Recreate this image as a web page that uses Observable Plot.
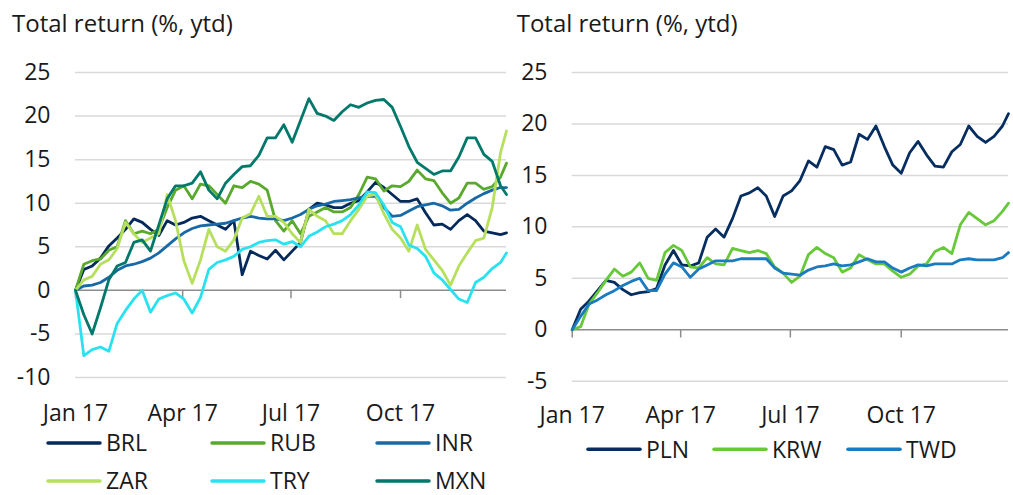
<!DOCTYPE html>
<html>
<head>
<meta charset="utf-8">
<script src="https://cdn.jsdelivr.net/npm/d3@7"></script>
<script src="https://cdn.jsdelivr.net/npm/@observablehq/plot@0.6"></script>
<style>
  html, body { margin: 0; padding: 0; background: #fff; }
  #root { position: relative; width: 1013px; height: 495px; overflow: hidden; font-family: "Open Sans", sans-serif; color: #1a1a1a; }
  .panel { position: absolute; top: 0; }
  #overlay { position: absolute; left: 0; top: 0; pointer-events: none; }
</style>
</head>
<body>
<div id="root">
  <div class="panel" id="left"></div>
  <div class="panel" id="right"></div>
</div>
<script>
// ---------------- DATA ----------------
const dates = [
  "2017-01-01","2017-01-08","2017-01-15","2017-01-22","2017-01-29",
  "2017-02-05","2017-02-12","2017-02-19","2017-02-26",
  "2017-03-05","2017-03-12","2017-03-19","2017-03-26",
  "2017-04-02","2017-04-09","2017-04-16","2017-04-23","2017-04-30",
  "2017-05-07","2017-05-14","2017-05-21","2017-05-28",
  "2017-06-04","2017-06-11","2017-06-18","2017-06-25",
  "2017-07-02","2017-07-09","2017-07-16","2017-07-23","2017-07-30",
  "2017-08-06","2017-08-13","2017-08-20","2017-08-27",
  "2017-09-03","2017-09-10","2017-09-17","2017-09-24",
  "2017-10-01","2017-10-08","2017-10-15","2017-10-22","2017-10-29",
  "2017-11-05","2017-11-12","2017-11-19","2017-11-26",
  "2017-12-03","2017-12-10","2017-12-17","2017-12-24","2017-12-29"
];

const leftSeries = ["BRL", "RUB", "INR", "ZAR", "TRY", "MXN"];
const leftColors = ["#04295a", "#58a92c", "#176aa6", "#b6e05c", "#2ae2ef", "#00786a"];

const BRL = [0, 2.4, 2.8, 3.7, 5.1, 6.0, 7.0, 8.2, 7.8, 7.0, 6.3, 8.0, 7.5, 7.8, 8.3, 8.5,
             8.0, 7.5, 7.0, 8.0, 1.8, 4.5, 4.0, 3.6, 4.6, 3.5, 4.5, 5.5, 9.3, 10.0, 9.8,
             9.5, 9.5, 10.0, 10.3, 11.3, 12.4, 11.8, 11.0,
             10.2, 10.2, 10.5, 8.9, 7.5, 7.6, 7.0, 8.0, 8.7, 8.0, 6.8, 6.6, 6.4, 6.6];
const RUB = [0, 3.0, 3.4, 3.6, 4.6, 5.0, 8.0, 6.5, 6.8, 6.5, 7.0, 9.5, 11.5, 12.0, 10.5, 12.2,
             12.0, 11.0, 10.0, 12.0, 11.8, 12.5, 12.2, 11.5, 8.0, 6.8, 8.0, 6.5, 8.5, 9.0, 9.5,
             9.0, 9.0, 9.5, 11.0, 13.0, 12.8, 11.4, 12.0,
             11.9, 12.5, 13.8, 12.8, 12.6, 11.2, 10.0, 10.6, 12.3, 12.3, 11.6, 11.9, 13.0, 14.6];
const INR = [0, 0.5, 0.6, 0.9, 1.5, 2.3, 2.8, 3.0, 3.3, 3.7, 4.3, 5.1, 5.9, 6.6, 7.1, 7.4,
             7.5, 7.6, 7.7, 8.0, 8.3, 8.5, 8.3, 8.2, 8.2, 8.0, 8.3, 8.7, 9.3, 9.7, 9.9,
             10.2, 10.3, 10.4, 10.6, 10.8, 10.8, 9.5, 8.5,
             8.6, 9.1, 9.6, 9.8, 10.0, 9.7, 9.2, 9.3, 10.0, 10.6, 11.1, 11.5, 11.8, 11.8];
const ZAR = [0, 1.2, 1.6, 3.0, 3.5, 4.8, 7.8, 6.5, 5.5, 6.0, 6.5, 11.0, 8.0, 3.4, 0.8, 3.5,
             7.0, 5.0, 4.5, 5.8, 8.3, 8.8, 10.8, 8.5, 8.5, 7.8, 6.5, 5.5, 9.3, 8.5, 8.0,
             6.5, 6.5, 8.0, 9.3, 10.8, 11.0, 8.8, 7.0,
             6.0, 4.5, 7.5, 4.7, 3.5, 2.3, 0.6, 2.8, 4.3, 5.7, 6.0, 9.5, 15.8, 18.3];
const TRY = [0, -7.5, -6.8, -6.5, -7.0, -3.8, -2.3, -1.0, 0.0, -2.5, -1.0, -0.6, -0.3, -1.0, -2.6, -0.8,
             2.4, 3.2, 3.5, 3.9, 4.7, 5.0, 5.5, 5.7, 5.8, 5.3, 5.6, 5.0, 6.2, 6.7, 7.3,
             7.6, 8.0, 8.7, 9.8, 11.3, 11.2, 9.8, 7.8,
             7.3, 5.2, 4.8, 3.9, 2.0, 1.2, 0.1, -1.0, -1.4, 0.9, 1.5, 2.5, 3.2, 4.3];
const MXN = [0, -2.8, -5.0, -2.0, 1.2, 2.8, 3.2, 5.5, 5.8, 4.5, 7.5, 10.5, 12.0, 12.0, 12.3, 13.6,
             11.5, 10.5, 12.3, 13.3, 14.2, 14.3, 15.5, 17.5, 17.5, 19.0, 17.0, 19.5, 22.0, 20.3, 20.0,
             19.5, 20.5, 21.3, 21.0, 21.5, 21.8, 21.9, 21.0,
             18.8, 16.5, 14.7, 14.0, 13.3, 13.7, 13.7, 15.3, 17.5, 17.5, 15.6, 14.8, 12.0, 11.0];

const rightSeries = ["PLN", "KRW", "TWD"];
const rightColors = ["#062d60", "#67c93a", "#1a7bc0"];

const PLN = [0, 2.0, 2.8, 3.8, 4.8, 4.6, 3.9, 3.4, 3.6, 3.7, 4.0, 6.3, 7.7, 6.3, 6.2, 6.5, 9.0, 9.8, 9.0, 10.8, 13.0, 13.3, 13.8, 13.0, 11.0, 13.0, 13.5, 14.5, 16.4, 15.8, 17.8, 17.5, 16.0, 16.3, 19.0, 18.5, 19.8, 17.8, 16.0, 15.2, 17.2, 18.3, 17.0, 15.9, 15.8, 17.3, 18.0, 19.8, 18.8, 18.2, 18.8, 19.8, 21.0];
const KRW = [0, 0.3, 2.5, 3.6, 4.8, 5.9, 5.2, 5.6, 6.5, 5.0, 4.8, 7.5, 8.2, 7.7, 6.1, 6.0, 7.0, 6.4, 6.3, 7.9, 7.7, 7.5, 7.7, 7.4, 6.1, 5.5, 4.6, 5.2, 7.3, 8.0, 7.4, 7.0, 5.6, 6.0, 7.3, 6.8, 6.4, 6.4, 5.7, 5.1, 5.4, 6.2, 6.4, 7.6, 8.0, 7.4, 10.2, 11.4, 10.8, 10.2, 10.6, 11.5, 12.3];
const TWD = [0, 1.3, 2.5, 2.9, 3.4, 3.8, 4.3, 4.7, 5.0, 3.8, 3.8, 5.4, 6.5, 6.1, 5.1, 5.9, 6.3, 6.7, 6.7, 6.7, 6.9, 6.9, 6.9, 6.9, 6.0, 5.5, 5.4, 5.3, 5.8, 6.1, 6.2, 6.4, 6.2, 6.3, 6.6, 6.9, 6.6, 6.6, 6.0, 5.6, 6.0, 6.3, 6.2, 6.4, 6.4, 6.4, 6.8, 6.9, 6.8, 6.8, 6.8, 7.0, 7.5];

const yTicksLeft = [-10, -5, 0, 5, 10, 15, 20, 25];
const yTicksRight = [-5, 0, 5, 10, 15, 20, 25];
const xTickDates = ["2017-01-01", "2017-04-01", "2017-07-01", "2017-10-01"];
const xTickLabels = ["Jan 17", "Apr 17", "Jul 17", "Oct 17"];
const titleText = "Total return (%, ytd)";

// ---------------- BUILD ----------------
const parse = d3.utcParse("%Y-%m-%d");
const dateObjs = dates.map(parse);
const tickObjs = xTickDates.map(parse);
const FONT = "'Open Sans', sans-serif";
const TEXT = "#1a1a1a";

function rowsFor(names, arrays) {
  return names.flatMap((s, k) => arrays[k].map((v, i) => ({date: dateObjs[i], value: v, series: s})));
}

function panel(opts) {
  const rows = rowsFor(opts.names, opts.arrays);
  const grid = opts.yTicks.filter(v => v !== 0);
  return Plot.plot({
    width: opts.width,
    height: 430,
    marginLeft: opts.marginLeft,
    marginRight: opts.marginRight,
    marginTop: 72,
    marginBottom: opts.marginBottom,
    style: {fontFamily: FONT, fontSize: "23px", color: TEXT, background: "transparent", overflow: "visible"},
    x: {type: "utc", domain: [dateObjs[0], dateObjs[dateObjs.length - 1]]},
    y: {domain: opts.yDomain},
    color: {domain: opts.names, range: opts.colors},
    marks: [
      Plot.ruleY(grid, {stroke: "#d9d9d9", strokeWidth: 1.5}),
      Plot.ruleY([0], {stroke: "#8c8c8c", strokeWidth: 1.5}),
      Plot.ruleX(tickObjs, {x: d => d, y1: 0, y2: -opts.tickDepth, stroke: "#8c8c8c", strokeWidth: 1.5}),
      Plot.axisY({ticks: opts.yTicks, tickSize: 0, tickPadding: opts.yPad, tickFormat: d => String(d), label: null, fill: TEXT}),
      Plot.axisX({ticks: tickObjs, tickSize: 0, tickPadding: opts.xPad, label: null, fill: TEXT,
                  tickFormat: d => xTickLabels[tickObjs.findIndex(t => +t === +d)]}),
      Plot.lineY(rows, {x: "date", y: "value", z: "series", stroke: "series", strokeWidth: 2.8, strokeLinejoin: "round"})
    ]
  });
}

const leftPlot = panel({
  names: leftSeries, colors: leftColors, arrays: [BRL, RUB, INR, ZAR, TRY, MXN],
  width: 510, marginLeft: 75, marginRight: 4, marginBottom: 53,
  yDomain: [-10, 25], yTicks: yTicksLeft, yPad: 25, xPad: 27, tickDepth: 0.95
});
document.getElementById("left").appendChild(leftPlot);
document.getElementById("left").style.left = "0px";

const rightPlot = panel({
  names: rightSeries, colors: rightColors, arrays: [PLN, KRW, TWD],
  width: 507, marginLeft: 65.7, marginRight: 5, marginBottom: 49.3,
  yDomain: [-5, 25], yTicks: yTicksRight, yPad: 24.7, xPad: 25, tickDepth: 0.8
});
document.getElementById("right").appendChild(rightPlot);
document.getElementById("right").style.left = "506px";

// ---------------- TITLES & LEGENDS ----------------
const overlay = d3.select("#root").append("svg")
  .attr("id", "overlay").attr("width", 1013).attr("height", 495)
  .style("font-family", FONT).style("font-size", "23px");

[[12, 31.5], [516.7, 31.5]].forEach(([x, y]) => {
  overlay.append("text").attr("x", x).attr("y", y).attr("fill", TEXT)
    .style("font-size", "24px").text(titleText);
});

const legendItems = [
  {name: "BRL", color: leftColors[0], x: 48, y: 443},
  {name: "RUB", color: leftColors[1], x: 212, y: 443},
  {name: "INR", color: leftColors[2], x: 377, y: 443},
  {name: "ZAR", color: leftColors[3], x: 48, y: 481},
  {name: "TRY", color: leftColors[4], x: 212, y: 481},
  {name: "MXN", color: leftColors[5], x: 377, y: 481},
  {name: "PLN", color: rightColors[0], x: 588, y: 449.3},
  {name: "KRW", color: rightColors[1], x: 714, y: 449.3},
  {name: "TWD", color: rightColors[2], x: 848, y: 449.3}
];
legendItems.forEach(it => {
  overlay.append("line").attr("x1", it.x).attr("x2", it.x + 52).attr("y1", it.y).attr("y2", it.y)
    .attr("stroke", it.color).attr("stroke-width", 3.5).attr("stroke-linecap", "round");
  overlay.append("text").attr("x", it.x + 58).attr("y", it.y + 8.3).attr("fill", TEXT).text(it.name);
});
</script>
</body>
</html>
